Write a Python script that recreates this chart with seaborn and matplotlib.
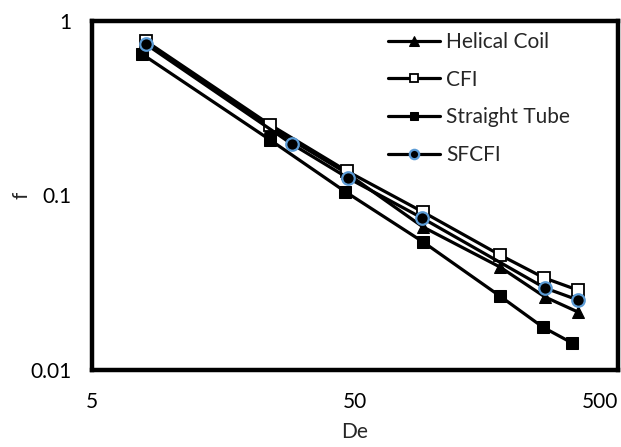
import matplotlib
matplotlib.use("Agg")
import matplotlib.pyplot as plt
import seaborn as sns
import pandas as pd
from matplotlib.ticker import FixedLocator, FixedFormatter, NullLocator

# ---- data ----
helical_de = [8.0, 23.8, 46.6, 90.7, 178, 264, 352]
helical_f = [0.75, 0.246, 0.134, 0.066, 0.0389, 0.0262, 0.0215]

cfi_de = [8.0, 23.8, 46.6, 90.7, 178, 262, 352]
cfi_f = [0.768, 0.254, 0.138, 0.0804, 0.0456, 0.0337, 0.0287]

straight_de = [7.74, 23.8, 46.0, 90.7, 178, 259, 334]
straight_f = [0.647, 0.208, 0.105, 0.0542, 0.0265, 0.0176, 0.0143]

sfcfi_de = [8.0, 28.8, 47.0, 90.0, 264, 352]
sfcfi_f = [0.738, 0.197, 0.126, 0.0743, 0.0295, 0.0252]

x_ticks = [5, 50, 500]
x_tick_labels = ["5", "50", "500"]
y_ticks = [0.01, 0.1, 1]
y_tick_labels = ["0.01", "0.1", "1"]

sns.set_style("white")
plt.rcParams["font.family"] = ["Lato", "DejaVu Sans"]
FS = 15

W, H = 621, 447
fig = plt.figure(figsize=(W / 100, H / 100), dpi=100)
L, R, T, B = 92, 618, 21, 370
ax = fig.add_axes([L / W, 1 - B / H, (R - L) / W, (B - T) / H])

lw = 2.3
df_h = pd.DataFrame({"De": helical_de, "f": helical_f})
df_c = pd.DataFrame({"De": cfi_de, "f": cfi_f})
df_s = pd.DataFrame({"De": straight_de, "f": straight_f})
df_f = pd.DataFrame({"De": sfcfi_de, "f": sfcfi_f})

sns.lineplot(data=df_h, x="De", y="f", ax=ax, color="black", lw=lw,
             marker="^", markersize=9, markerfacecolor="black",
             markeredgecolor="black", label="Helical Coil", zorder=3)
sns.lineplot(data=df_c, x="De", y="f", ax=ax, color="black", lw=lw,
             marker="s", markersize=8, markerfacecolor="white",
             markeredgecolor="black", markeredgewidth=1.3, label="CFI", zorder=4)
sns.lineplot(data=df_s, x="De", y="f", ax=ax, color="black", lw=lw,
             marker="s", markersize=8, markerfacecolor="black",
             markeredgecolor="black", label="Straight Tube", zorder=5)
sns.lineplot(data=df_f, x="De", y="f", ax=ax, color="black", lw=lw,
             marker="o", markersize=9, markerfacecolor="black",
             markeredgecolor="#5B9BD5", markeredgewidth=1.6, label="SFCFI", zorder=6)

ax.set_xscale("log")
ax.set_yscale("log")
ax.set_xlim(5, 500)
ax.set_ylim(0.01, 1)
ax.xaxis.set_major_locator(FixedLocator(x_ticks))
ax.xaxis.set_major_formatter(FixedFormatter(x_tick_labels))
ax.yaxis.set_major_locator(FixedLocator(y_ticks))
ax.yaxis.set_major_formatter(FixedFormatter(y_tick_labels))
ax.xaxis.set_minor_locator(NullLocator())
ax.yaxis.set_minor_locator(NullLocator())
ax.tick_params(axis="both", length=0, labelsize=FS, colors="black")
ax.tick_params(axis="x", pad=16)
ax.tick_params(axis="y", pad=15)
ax.grid(False)
fig.canvas.draw()
ax.get_xticklabels()[-1].set_horizontalalignment("right")

for sp in ax.spines.values():
    sp.set_visible(True)
    sp.set_color("black")
    sp.set_linewidth(3.2)

ax.set_xlabel("De", fontsize=FS)
ax.set_ylabel("f", fontsize=FS)
ax.xaxis.set_label_coords(0.5, -0.15)
ax.yaxis.set_label_coords(-0.115, 0.5)

leg = ax.legend(loc="upper left", bbox_to_anchor=(388 / W, 1 - 32 / H),
                bbox_transform=fig.transFigure, frameon=False, fontsize=FS,
                handlelength=2.5, handletextpad=0.3, labelspacing=0.85,
                borderpad=0, borderaxespad=0, markerscale=0.75)

fig.savefig("out.png", dpi=100)
